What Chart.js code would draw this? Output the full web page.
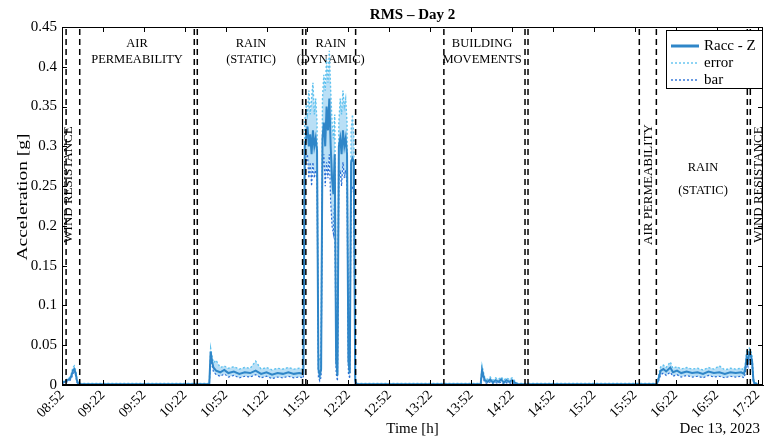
<!DOCTYPE html>
<html>
<head>
<meta charset="utf-8">
<script src="https://cdn.jsdelivr.net/npm/chart.js@4.4.1/dist/chart.umd.min.js"></script>
<style>
  html, body { margin: 0; padding: 0; background: #fff; }
  canvas { display: block; }
</style>
</head>
<body>
<canvas id="chart-rms" width="764" height="442"></canvas>
<script>
// ======================================================
// RMS - DAY 2 (time in minutes after 08:52)
// ======================================================

const tMin = [0, 2, 4, 6, 7, 8, 9, 10, 11, 12, 14, 40, 70, 100, 108,
    109, 110, 111, 113, 116, 119, 122, 126, 130, 134, 138, 142, 146, 150, 154, 158, 162, 166, 170, 174, 177,
    178, 179, 180, 181, 182, 183, 184, 185, 186, 187, 188, 189, 190, 191, 192, 193, 194, 195, 196, 197, 198, 199,
    200, 201, 202, 203, 204, 205, 206, 207, 208, 209, 210, 211, 212, 213, 214, 215,
    216, 250, 280, 307,
    308, 309, 310, 312, 314, 316, 318, 320, 322, 324, 326, 328, 330, 332, 334,
    335, 380, 420, 436,
    437, 438, 439, 441, 443, 446, 448, 451, 454, 458, 462, 466, 470, 474, 478, 482, 486, 490, 494, 498, 500,
    501, 502, 503, 504, 505, 506, 507, 508, 510];

const racc = [0.003, 0.004, 0.006, 0.008, 0.012, 0.018, 0.020, 0.015, 0.005, 0.002, 0.001, 0.001, 0.001, 0.001, 0.001,
    0.042, 0.030, 0.022, 0.018, 0.016, 0.019, 0.015, 0.017, 0.014, 0.016, 0.015, 0.018, 0.014, 0.016, 0.013, 0.015, 0.014, 0.016, 0.014, 0.015, 0.014,
    0.300, 0.310, 0.325, 0.300, 0.315, 0.290, 0.320, 0.300, 0.310, 0.295, 0.020, 0.012, 0.020, 0.310, 0.330, 0.300, 0.350, 0.320, 0.360, 0.300, 0.260, 0.240,
    0.290, 0.030, 0.012, 0.300, 0.310, 0.290, 0.320, 0.300, 0.310, 0.290, 0.030, 0.015, 0.280, 0.285, 0.280, 0.005,
    0.001, 0.001, 0.001, 0.001,
    0.019, 0.012, 0.006, 0.004, 0.007, 0.003, 0.006, 0.004, 0.007, 0.003, 0.006, 0.004, 0.006, 0.003, 0.001,
    0.001, 0.001, 0.001, 0.001,
    0.005, 0.012, 0.018, 0.020, 0.017, 0.022, 0.016, 0.018, 0.015, 0.017, 0.015, 0.016, 0.014, 0.017, 0.015, 0.016, 0.014, 0.016, 0.015, 0.016, 0.014,
    0.020, 0.035, 0.030, 0.040, 0.038, 0.030, 0.005, 0.002, 0.001];

const upper = [0.004, 0.005, 0.008, 0.010, 0.015, 0.022, 0.024, 0.018, 0.007, 0.003, 0.002, 0.002, 0.002, 0.002, 0.002,
    0.046, 0.036, 0.028, 0.031, 0.022, 0.024, 0.021, 0.023, 0.020, 0.022, 0.021, 0.030, 0.020, 0.022, 0.019, 0.021, 0.020, 0.022, 0.020, 0.021, 0.020,
    0.330, 0.350, 0.340, 0.370, 0.340, 0.360, 0.380, 0.340, 0.360, 0.330, 0.040, 0.030, 0.040, 0.360, 0.390, 0.370, 0.410, 0.380, 0.420, 0.370, 0.330, 0.310,
    0.340, 0.050, 0.030, 0.330, 0.360, 0.340, 0.370, 0.350, 0.360, 0.330, 0.050, 0.030, 0.320, 0.340, 0.310, 0.010,
    0.002, 0.002, 0.002, 0.002,
    0.024, 0.016, 0.009, 0.007, 0.010, 0.006, 0.009, 0.007, 0.010, 0.006, 0.009, 0.007, 0.009, 0.005, 0.002,
    0.002, 0.002, 0.002, 0.002,
    0.007, 0.016, 0.023, 0.025, 0.022, 0.029, 0.021, 0.023, 0.020, 0.022, 0.020, 0.021, 0.019, 0.022, 0.020, 0.024, 0.019, 0.021, 0.020, 0.021, 0.019,
    0.026, 0.042, 0.037, 0.046, 0.044, 0.036, 0.008, 0.003, 0.002];

const lower = [0.002, 0.003, 0.004, 0.006, 0.009, 0.014, 0.016, 0.012, 0.003, 0.001, 0, 0, 0, 0, 0,
    0.036, 0.025, 0.017, 0.013, 0.011, 0.014, 0.010, 0.012, 0.009, 0.011, 0.010, 0.013, 0.009, 0.011, 0.008, 0.010, 0.009, 0.011, 0.009, 0.010, 0.009,
    0.270, 0.280, 0.290, 0.260, 0.280, 0.250, 0.280, 0.260, 0.270, 0.260, 0.010, 0.005, 0.010, 0.270, 0.290, 0.250, 0.280, 0.260, 0.290, 0.230, 0.200, 0.190,
    0.240, 0.015, 0.005, 0.260, 0.270, 0.250, 0.280, 0.260, 0.270, 0.250, 0.015, 0.008, 0.240, 0.250, 0.240, 0.002,
    0, 0, 0, 0,
    0.014, 0.008, 0.003, 0.002, 0.004, 0.001, 0.003, 0.002, 0.004, 0.001, 0.003, 0.002, 0.003, 0.001, 0,
    0, 0, 0, 0,
    0.003, 0.008, 0.013, 0.015, 0.012, 0.016, 0.011, 0.013, 0.010, 0.012, 0.010, 0.011, 0.009, 0.012, 0.010, 0.011, 0.009, 0.011, 0.010, 0.011, 0.009,
    0.014, 0.028, 0.023, 0.034, 0.032, 0.024, 0.003, 0.001, 0];

// test phase boundaries (minutes after 08:52)
const phaseMarks = [3, 13, 97, 99.2, 176.4, 178.8, 215.3, 280, 339.5, 341.7, 423.3, 435.8, 502.5, 504.7];

const xTickLabels = ['08:52', '09:22', '09:52', '10:22', '10:52', '11:22', '11:52', '12:22', '12:52',
    '13:22', '13:52', '14:22', '14:52', '15:22', '15:52', '16:22', '16:52', '17:22'];

const seriesNames = ['Racc - Z', 'error', 'bar'];

// labels placed on the plot (x in minutes, y in g)
const phaseNotes = [
    { lines: ['AIR', 'PERMEABILITY'], at: 55, level: [0.4286, 0.4085] },
    { lines: ['RAIN', '(STATIC)'], at: 138.6, level: [0.4286, 0.4085] },
    { lines: ['RAIN', '(DYNAMIC)'], at: 197, level: [0.4286, 0.4085] },
    { lines: ['BUILDING', 'MOVEMENTS'], at: 308, level: [0.4286, 0.4085] },
    { lines: ['RAIN', '(STATIC)'], at: 470, level: [0.2727, 0.2438] }
];
const sideNotes = [
    { text: 'WIND RESISTANCE', at: 4.8, level: 0.252 },
    { text: 'AIR PERMEABILITY', at: 430, level: 0.252 },
    { text: 'WIND RESISTANCE', at: 511, level: 0.252 }
];

const SERIF = '"Liberation Serif", "Times New Roman", serif';
const COL_MAIN = '#2f86c8';
const COL_UP = '#5fc2ef';
const COL_LOW = '#2a6fd6';

const pts = vals => tMin.map((t, i) => ({ x: t, y: vals[i] }));

const datasets = [{
    label: seriesNames[1],
    data: pts(upper),
    borderColor: COL_UP,
    backgroundColor: 'rgba(100, 185, 235, 0.45)',
    borderDash: [2, 2],
    borderWidth: 1.4,
    fill: '+1',
    order: 3
}, {
    label: seriesNames[2],
    data: pts(lower),
    borderColor: COL_LOW,
    borderDash: [2, 2],
    borderWidth: 1.2,
    fill: false,
    order: 2
}, {
    label: seriesNames[0],
    data: pts(racc),
    borderColor: COL_MAIN,
    borderWidth: 2,
    fill: false,
    order: 1
}];

phaseMarks.forEach(m => {
    datasets.push({
        label: '',
        data: [{ x: m, y: 0 }, { x: m, y: 0.45 }],
        borderColor: '#000',
        borderWidth: 1.5,
        borderDash: [6, 4],
        fill: false,
        order: 0,
        isMark: true
    });
});

const overlay = {
    id: 'overlay',
    beforeDatasetsDraw(chart) {
        const { ctx, scales: { x, y } } = chart;
        ctx.save();
        ctx.fillStyle = '#000';
        ctx.textAlign = 'center';
        ctx.textBaseline = 'middle';
        ctx.font = '12.5px ' + SERIF;
        phaseNotes.forEach(n => {
            const px = x.getPixelForValue(n.at);
            n.lines.forEach((s, i) => ctx.fillText(s, px, y.getPixelForValue(n.level[i])));
        });
        ctx.font = '13px ' + SERIF;
        sideNotes.forEach(n => {
            ctx.save();
            ctx.translate(x.getPixelForValue(n.at), y.getPixelForValue(n.level));
            ctx.rotate(-Math.PI / 2);
            ctx.fillText(n.text, 0, 0);
            ctx.restore();
        });
        ctx.restore();
    },
    afterDatasetsDraw(chart) {
        const { ctx, chartArea: a, scales: { x, y } } = chart;
        ctx.save();
        ctx.strokeStyle = '#000';
        ctx.lineWidth = 1;
        ctx.strokeRect(a.left + 0.5, a.top + 0.5, a.right - a.left - 1, a.bottom - a.top - 1);
        // inward ticks like the original figure
        ctx.beginPath();
        x.ticks.forEach(t => {
            const px = Math.round(x.getPixelForValue(t.value)) + 0.5;
            ctx.moveTo(px, a.bottom); ctx.lineTo(px, a.bottom - 5);
            ctx.moveTo(px, a.top); ctx.lineTo(px, a.top + 5);
        });
        y.ticks.forEach(t => {
            const py = Math.round(y.getPixelForValue(t.value)) + 0.5;
            ctx.moveTo(a.left, py); ctx.lineTo(a.left + 5, py);
            ctx.moveTo(a.right, py); ctx.lineTo(a.right - 5, py);
        });
        ctx.stroke();
        ctx.restore();
    },
    afterDraw(chart) {
        const { ctx, chartArea: a } = chart;
        ctx.save();
        ctx.fillStyle = '#000';
        ctx.textBaseline = 'middle';

        // title
        ctx.textAlign = 'center';
        ctx.font = 'bold 15px ' + SERIF;
        ctx.fillText('RMS – Day 2', (a.left + a.right) / 2, 15);

        // y axis title (stretched like the source)
        ctx.save();
        ctx.translate(23, 197);
        ctx.rotate(-Math.PI / 2);
        ctx.font = '15px ' + SERIF;
        const yt = 'Acceleration [g]';
        const sx = 127 / ctx.measureText(yt).width;
        ctx.scale(sx, 1);
        ctx.fillText(yt, 0, 0);
        ctx.restore();

        // date stamp
        ctx.textAlign = 'right';
        ctx.font = '15px ' + SERIF;
        ctx.fillText('Dec 13, 2023', 760, 429);

        // legend
        const lw = 96, lh = 58;
        const lx = a.right - lw - 1, ly = a.top + 3;
        ctx.fillStyle = '#fff';
        ctx.fillRect(lx, ly, lw, lh);
        ctx.strokeStyle = '#000';
        ctx.lineWidth = 1;
        ctx.strokeRect(lx + 0.5, ly + 0.5, lw, lh);
        const order = [2, 0, 1];
        ctx.textAlign = 'left';
        ctx.font = '15px ' + SERIF;
        order.forEach((di, i) => {
            const ds = chart.data.datasets[di];
            const ry = ly + 16 + i * 17;
            ctx.save();
            ctx.strokeStyle = ds.borderColor;
            ctx.lineWidth = di === 2 ? 3 : 1.4;
            ctx.setLineDash(ds.borderDash || []);
            ctx.beginPath();
            ctx.moveTo(lx + 5, ry);
            ctx.lineTo(lx + 33, ry);
            ctx.stroke();
            ctx.restore();
            ctx.fillStyle = '#000';
            ctx.fillText(ds.label, lx + 38, ry);
        });
        ctx.restore();
    }
};

const tickFont = { family: SERIF, size: 14 };

new Chart(document.getElementById('chart-rms'), {
    type: 'line',
    data: { datasets },
    options: {
        responsive: false,
        animation: false,
        parsing: true,
        elements: { point: { radius: 0 }, line: { tension: 0 } },
        layout: { padding: { top: 27, right: 1, left: 0, bottom: 0 } },
        plugins: {
            legend: { display: false },
            tooltip: { enabled: false },
            title: { display: false }
        },
        scales: {
            x: {
                type: 'linear',
                min: 0,
                max: 514,
                ticks: {
                    stepSize: 30,
                    includeBounds: false,
                    autoSkip: false,
                    minRotation: 45,
                    maxRotation: 45,
                    padding: 2,
                    color: '#000',
                    font: tickFont,
                    callback: v => xTickLabels[Math.round(v / 30)] || ''
                },
                grid: { display: false, drawTicks: false },
                border: { color: '#000', width: 1 },
                title: {
                    display: true,
                    text: 'Time [h]',
                    color: '#000',
                    font: { family: SERIF, size: 15 },
                    padding: { top: 0, bottom: 4 }
                },
                afterFit(s) { s.height = 57; s.paddingLeft = 0; s.paddingRight = 0; }
            },
            y: {
                min: 0,
                max: 0.45,
                ticks: {
                    stepSize: 0.05,
                    padding: 5,
                    color: '#000',
                    font: { family: SERIF, size: 15 },
                    callback: v => String(+v.toFixed(2))
                },
                grid: { display: false, drawTicks: false },
                border: { color: '#000', width: 1 },
                afterFit(s) { s.width = 62; }
            }
        }
    },
    plugins: [overlay]
});
</script>
</body>
</html>
